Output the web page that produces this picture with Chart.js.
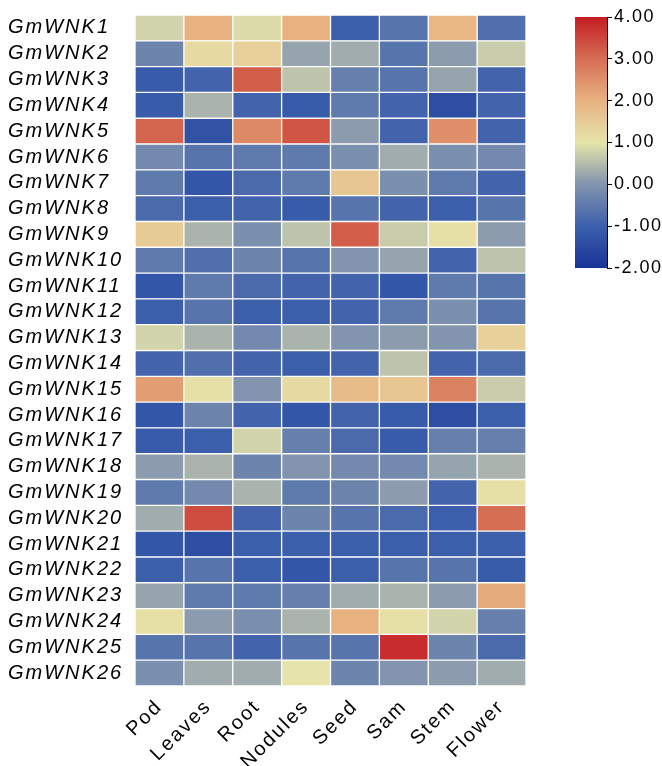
<!DOCTYPE html>
<html>
<head>
<meta charset="utf-8">
<script src="https://cdn.jsdelivr.net/npm/chart.js@4.4.0/dist/chart.umd.min.js"></script>
<style>
  body { margin: 0; background: #fff; }
  #wrap { position: relative; width: 662px; height: 766px; }
  #heat { position: absolute; left: 0; top: 0; }
  #bar { position: absolute; left: 560px; top: 0; }
</style>
</head>
<body>
<div id="wrap">
  <canvas id="heat" width="662" height="766"></canvas>
  <canvas id="bar" width="102" height="290"></canvas>
</div>
<script>
var colLabels = ["Pod", "Leaves", "Root", "Nodules", "Seed", "Sam", "Stem", "Flower"];
var rowLabels = [];
for (var i = 1; i <= 26; i++) rowLabels.push("GmWNK" + i);

// expression values, one row per gene, columns in colLabels order
var expr = [
  [0.8, 2.0, 0.9, 2.0, -1.0, -0.6, 1.9, -0.7],
  [-0.3, 1.2, 1.4, 0.2, 0.3, -0.6, 0.1, 0.7],
  [-1.1, -0.9, 3.2, 0.6, -0.4, -0.6, 0.2, -0.9],
  [-1.1, 0.4, -0.9, -1.1, -0.5, -0.9, -1.4, -0.9],
  [3.1, -1.3, 2.6, 3.3, 0.1, -0.9, 2.5, -0.9],
  [-0.2, -0.6, -0.5, -0.5, -0.1, 0.3, -0.1, -0.2],
  [-0.5, -1.2, -0.8, -0.5, 1.6, -0.1, -0.5, -0.9],
  [-0.8, -1.0, -0.9, -1.1, -0.6, -0.9, -1.0, -0.6],
  [1.5, 0.4, -0.1, 0.6, 3.2, 0.7, 1.1, 0.1],
  [-0.5, -0.7, -0.3, -0.6, 0.0, 0.2, -0.9, 0.6],
  [-1.2, -0.5, -0.8, -0.9, -0.9, -1.2, -0.5, -0.6],
  [-1.0, -0.6, -1.0, -1.0, -0.9, -0.5, -0.1, -0.6],
  [0.8, 0.4, -0.2, 0.4, 0.0, 0.1, 0.0, 1.4],
  [-0.9, -0.7, -0.9, -1.0, -0.9, 0.6, -0.9, -0.8],
  [2.3, 1.1, 0.0, 1.2, 1.8, 1.6, 2.7, 0.7],
  [-1.2, -0.3, -0.9, -1.2, -0.9, -1.1, -1.4, -1.0],
  [-1.1, -1.0, 0.8, -0.4, -0.8, -1.1, -0.4, -0.4],
  [0.1, 0.4, -0.3, 0.0, -0.2, -0.2, 0.2, 0.4],
  [-0.5, -0.2, 0.4, -0.5, -0.3, 0.1, -0.9, 1.1],
  [0.3, 3.4, -0.9, -0.3, -0.6, -0.8, -1.0, 3.0],
  [-1.2, -1.4, -1.0, -1.0, -1.0, -1.0, -1.0, -1.0],
  [-1.0, -0.6, -1.0, -1.2, -1.0, -0.6, -0.6, -1.1],
  [0.2, -0.5, -0.5, -0.4, 0.3, 0.4, 0.1, 2.1],
  [1.1, 0.1, -0.1, 0.4, 2.0, 1.1, 0.8, -0.4],
  [-0.6, -0.6, -0.9, -0.6, -0.6, 3.8, -0.3, -0.8],
  [-0.1, 0.3, 0.3, 1.0, -0.3, 0.0, 0.1, 0.3]
];

var scaleTicks = [-2, -1, 0, 1, 2, 3, 4];
var scaleColors = [
  [22, 52, 150],
  [60, 95, 172],
  [130, 148, 174],
  [230, 228, 170],
  [232, 178, 128],
  [214, 110, 84],
  [196, 28, 34]
];

function colorFor(v) {
  var lo = scaleTicks[0], hi = scaleTicks[scaleTicks.length - 1];
  v = Math.max(lo, Math.min(hi, v));
  var k = Math.min(scaleTicks.length - 2, Math.floor(v - lo));
  var t = v - scaleTicks[k];
  var a = scaleColors[k], b = scaleColors[k + 1];
  var c = a.map(function (x, j) { return Math.round(x + (b[j] - x) * t); });
  return "rgb(" + c.join(",") + ")";
}

// the source figure's text runs a little wide, so open the letters up a bit
var spacing = {
  id: "spacing",
  beforeUpdate: function (chart, args, opts) { chart.ctx.letterSpacing = opts.px + "px"; },
  beforeDraw: function (chart, args, opts) { chart.ctx.letterSpacing = opts.px + "px"; }
};

var datasets = colLabels.map(function (name, j) {
  return {
    label: name,
    data: expr.map(function () { return [j, j + 1]; }),
    backgroundColor: expr.map(function (row) { return colorFor(row[j]); }),
    borderColor: "#ffffff",
    borderWidth: 1,
    borderSkipped: false,
    grouped: false,
    barPercentage: 1,
    categoryPercentage: 1
  };
});

var heatChart = new Chart(document.getElementById("heat"), {
  type: "bar",
  data: { labels: rowLabels, datasets: datasets },
  plugins: [spacing],
  options: {
    responsive: false,
    animation: false,
    indexAxis: "y",
    layout: { padding: { left: 8, right: 136, top: 7, bottom: 0 } },
    plugins: { legend: { display: false }, tooltip: { enabled: false }, spacing: { px: 2 } },
    scales: {
      x: {
        type: "linear",
        min: 0,
        max: 8,
        grid: { display: false },
        border: { display: false },
        afterBuildTicks: function (axis) {
          axis.ticks = colLabels.map(function (_, i) { return { value: i + 0.5 }; });
        },
        afterFit: function (axis) { axis.height = 80; },
        ticks: {
          minRotation: 45,
          maxRotation: 45,
          autoSkip: false,
          padding: 1,
          color: "#000",
          font: { family: "Liberation Sans", size: 20 },
          callback: function (v) { return colLabels[Math.floor(v)]; }
        }
      },
      y: {
        grid: { display: false },
        border: { display: false },
        afterFit: function (axis) { axis.width = 127; },
        ticks: {
          autoSkip: false,
          crossAlign: "far",
          color: "#000",
          font: { family: "Liberation Sans", size: 20, style: "italic" }
        }
      }
    }
  }
});

// colour key
var barChart = new Chart(document.getElementById("bar"), {
  type: "bar",
  data: {
    labels: [""],
    datasets: [{
      data: [[scaleTicks[0], scaleTicks[scaleTicks.length - 1]]],
      barPercentage: 1,
      categoryPercentage: 1,
      backgroundColor: function (ctx) {
        var area = ctx.chart.chartArea;
        if (!area) return null;
        var g = ctx.chart.ctx.createLinearGradient(0, area.bottom, 0, area.top);
        scaleTicks.forEach(function (t, i) {
          g.addColorStop(i / (scaleTicks.length - 1), colorFor(t));
        });
        return g;
      }
    }]
  },
  plugins: [spacing],
  options: {
    responsive: false,
    animation: false,
    layout: { padding: { left: 15, right: 0, top: 17, bottom: 22 } },
    plugins: { legend: { display: false }, tooltip: { enabled: false }, spacing: { px: 1.5 } },
    scales: {
      x: { display: false },
      y: {
        position: "right",
        min: -2,
        max: 4,
        afterFit: function (axis) { axis.width = 55; },
        grid: { drawOnChartArea: false, color: "#000", tickLength: 5 },
        border: { display: true, color: "#000", width: 1 },
        ticks: {
          stepSize: 1,
          padding: 2,
          color: "#000",
          font: { family: "Liberation Sans", size: 18 },
          callback: function (v) { return v.toFixed(2); }
        }
      }
    }
  }
});
</script>
</body>
</html>
